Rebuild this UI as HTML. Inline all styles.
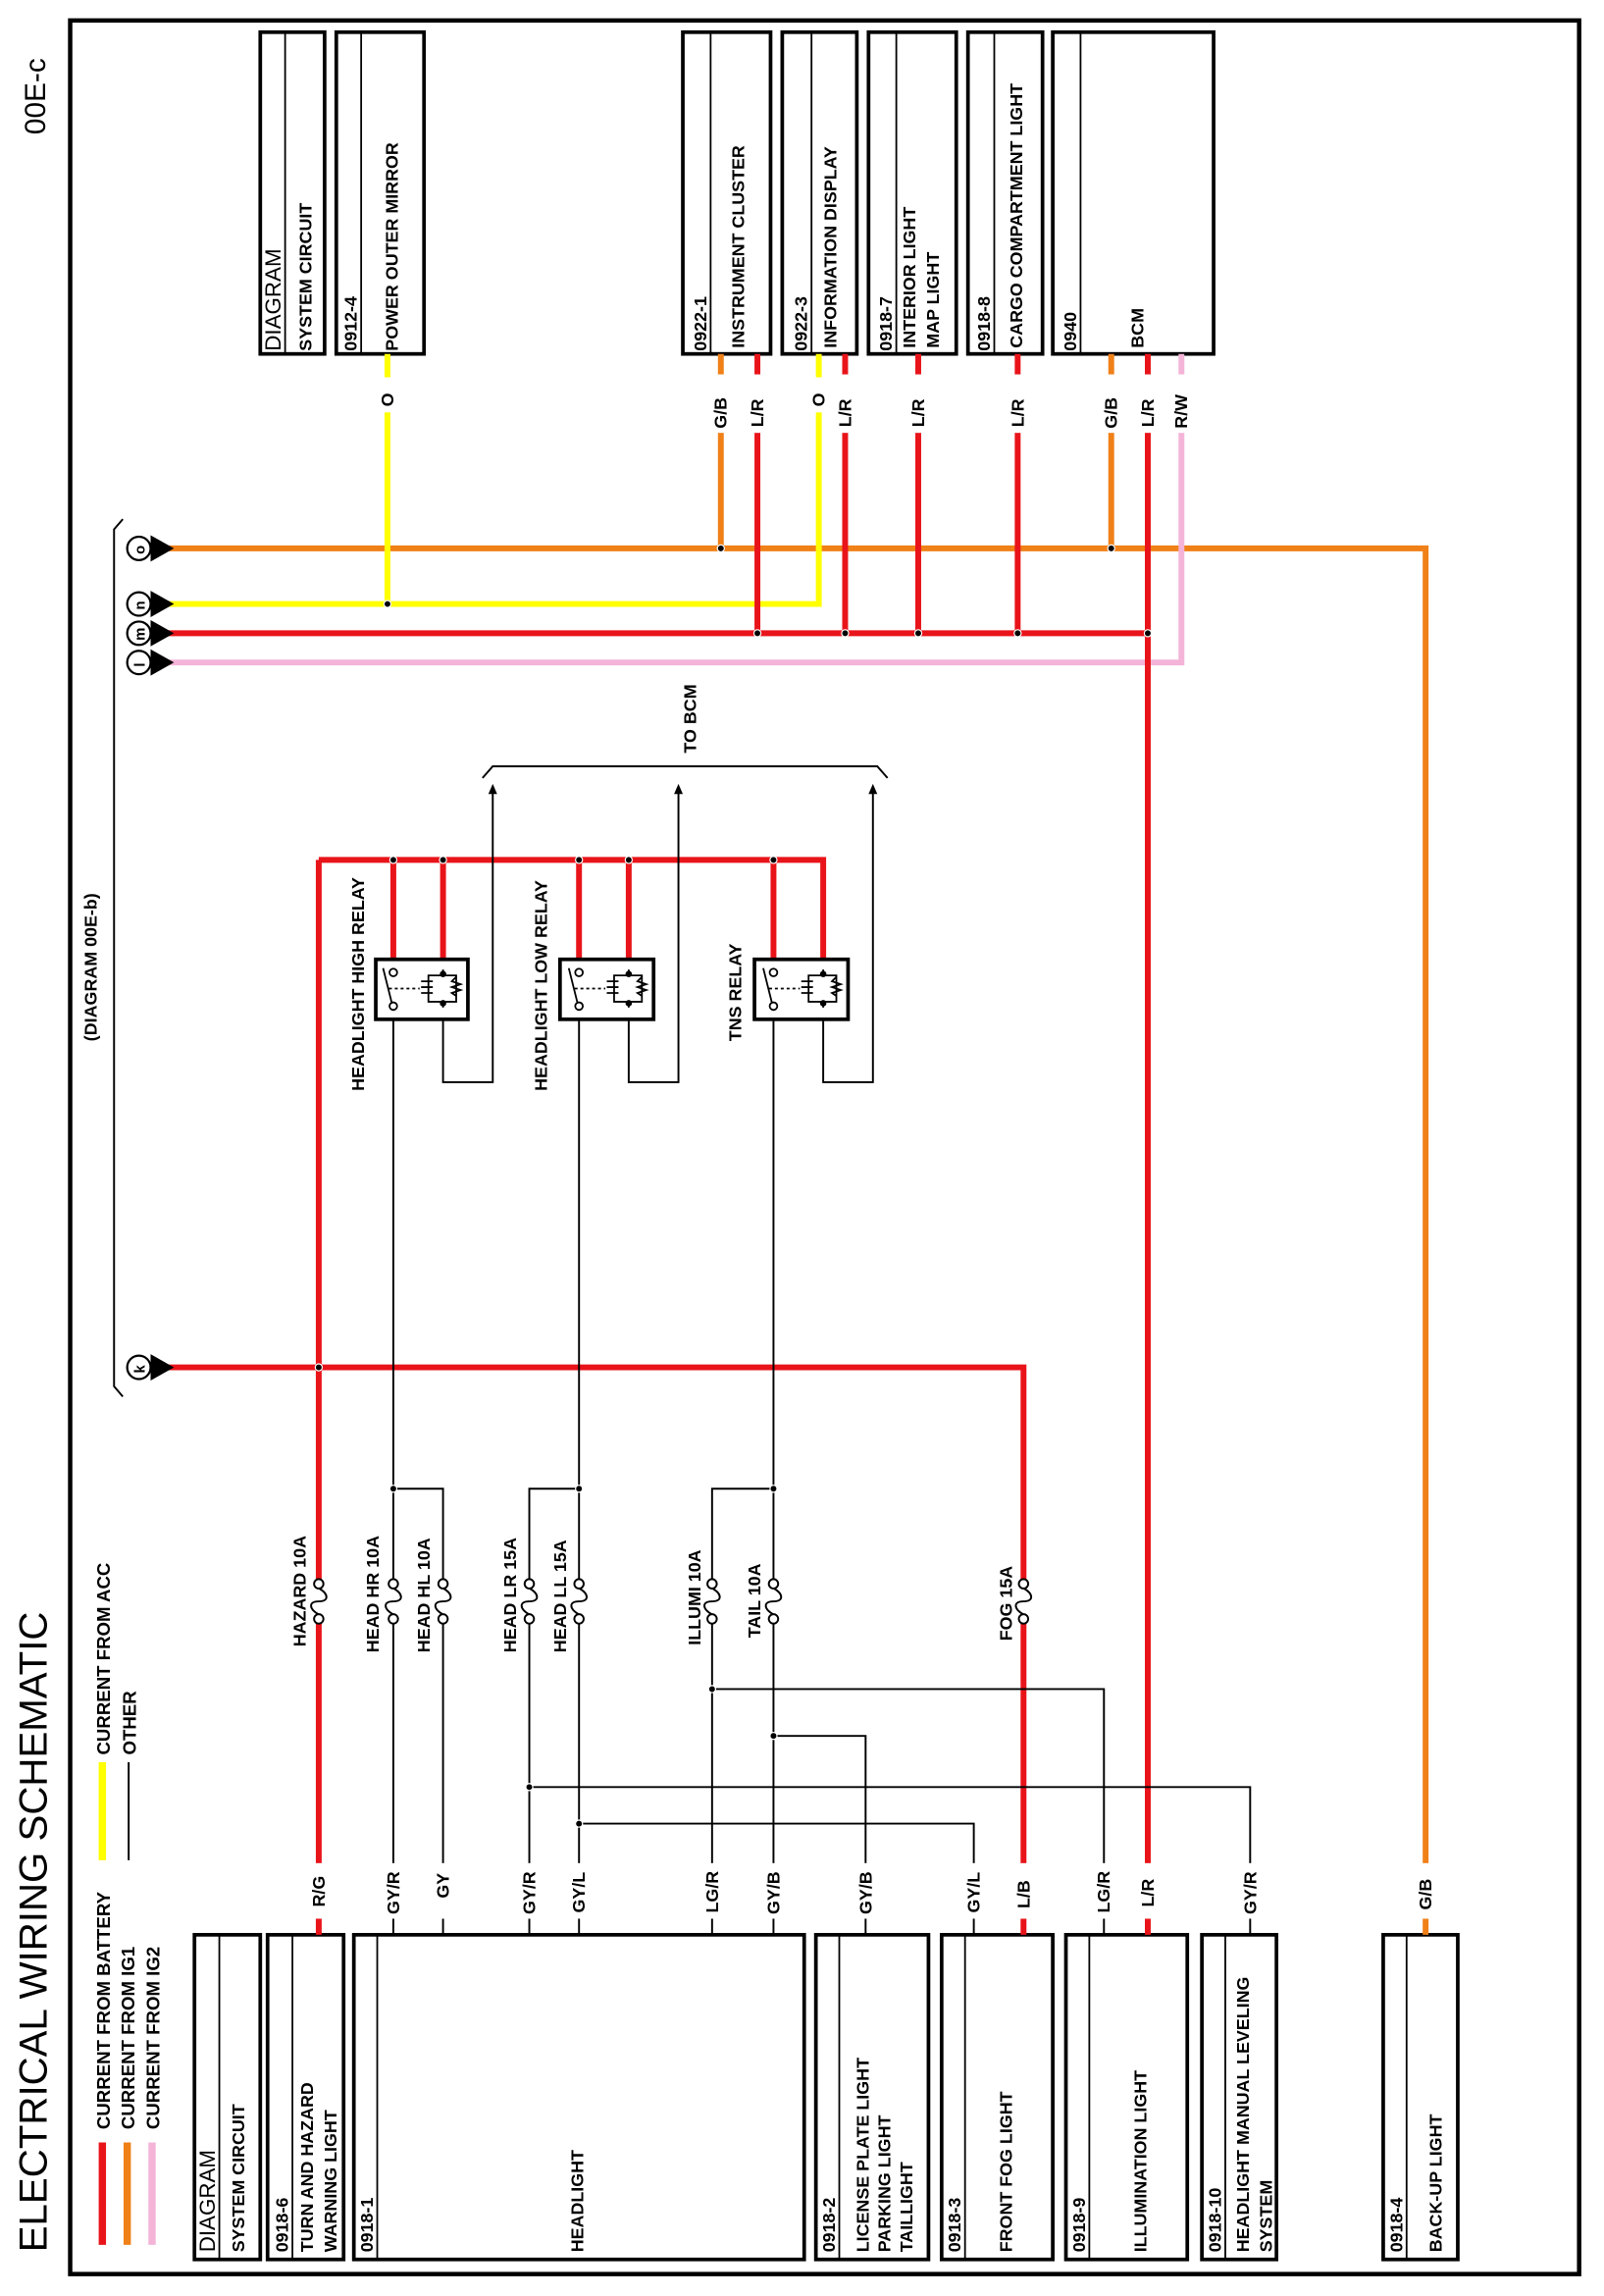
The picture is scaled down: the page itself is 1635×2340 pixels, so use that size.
<!DOCTYPE html>
<html><head><meta charset="utf-8"><style>
html,body{margin:0;padding:0;background:#fff;}
svg{display:block;}
text{font-family:"Liberation Sans",Arial,sans-serif;font-weight:bold;font-size:12px;fill:#000;}
</style></head><body>
<svg width="1635" height="2340" viewBox="0 0 1097 1570" preserveAspectRatio="none" xmlns="http://www.w3.org/2000/svg">
<rect x="0" y="0" width="1097" height="1570" fill="#fff"/>
<rect x="48" y="14" width="1032" height="1541" fill="none" stroke="#000" stroke-width="3"/>
<text transform="translate(32,1540) rotate(-90)" style="font-size:27px;font-weight:normal">ELECTRICAL WIRING SCHEMATIC</text>
<text transform="translate(31,92) rotate(-90)" style="font-size:20px;font-weight:normal">00E-c</text>

<!-- legend -->
<line x1="70" y1="1465" x2="70" y2="1535" stroke="#e8141a" stroke-width="5"/>
<line x1="87" y1="1465" x2="87" y2="1535" stroke="#f08018" stroke-width="5"/>
<line x1="104" y1="1465" x2="104" y2="1535" stroke="#f4b4d8" stroke-width="5"/>
<text transform="translate(75,1456) rotate(-90)" style="font-size:12.5px">CURRENT FROM BATTERY</text>
<text transform="translate(92,1456) rotate(-90)" style="font-size:12.5px">CURRENT FROM IG1</text>
<text transform="translate(109,1456) rotate(-90)" style="font-size:12.5px">CURRENT FROM IG2</text>
<line x1="70" y1="1205" x2="70" y2="1272" stroke="#ffff00" stroke-width="5"/>
<line x1="88" y1="1205" x2="88" y2="1272" stroke="#000" stroke-width="1.3"/>
<text transform="translate(75,1200) rotate(-90)" style="font-size:12.5px">CURRENT FROM ACC</text>
<text transform="translate(93,1200) rotate(-90)" style="font-size:12.5px">OTHER</text>

<g fill="none" stroke="#000" stroke-width="2.5">
<rect x="133" y="1323" width="45" height="222"/>
<rect x="183" y="1323" width="52" height="222"/>
<rect x="242" y="1323" width="308" height="222"/>
<rect x="558" y="1323" width="77" height="222"/>
<rect x="644" y="1323" width="76" height="222"/>
<rect x="729" y="1323" width="83" height="222"/>
<rect x="822" y="1323" width="51" height="222"/>
<rect x="946" y="1323" width="51" height="222"/>
<rect x="178" y="22" width="44" height="220"/>
<rect x="230" y="22" width="60" height="220"/>
<rect x="467" y="22" width="60" height="220"/>
<rect x="535" y="22" width="51" height="220"/>
<rect x="594" y="22" width="60" height="220"/>
<rect x="662" y="22" width="51" height="220"/>
<rect x="720" y="22" width="110" height="220"/>
</g>
<g stroke="#000" stroke-width="1.2">
<line x1="150" y1="1323" x2="150" y2="1545"/>
<line x1="200" y1="1323" x2="200" y2="1545"/>
<line x1="258" y1="1323" x2="258" y2="1545"/>
<line x1="574" y1="1323" x2="574" y2="1545"/>
<line x1="660" y1="1323" x2="660" y2="1545"/>
<line x1="745" y1="1323" x2="745" y2="1545"/>
<line x1="838" y1="1323" x2="838" y2="1545"/>
<line x1="962" y1="1323" x2="962" y2="1545"/>
<line x1="195" y1="22" x2="195" y2="242"/>
<line x1="247" y1="22" x2="247" y2="242"/>
<line x1="486" y1="22" x2="486" y2="242"/>
<line x1="555" y1="22" x2="555" y2="242"/>
<line x1="613" y1="22" x2="613" y2="242"/>
<line x1="680" y1="22" x2="680" y2="242"/>
<line x1="739" y1="22" x2="739" y2="242"/>
</g>
<text transform="translate(147,1540) rotate(-90)" style="font-size:15px;font-weight:normal">DIAGRAM</text>
<text transform="translate(167,1540) rotate(-90)">SYSTEM CIRCUIT</text>
<text transform="translate(197,1540) rotate(-90)">0918-6</text>
<text transform="translate(214,1540) rotate(-90)">TURN AND HAZARD</text>
<text transform="translate(230,1540) rotate(-90)">WARNING LIGHT</text>
<text transform="translate(255,1540) rotate(-90)">0918-1</text>
<text transform="translate(399,1540) rotate(-90)">HEADLIGHT</text>
<text transform="translate(571,1540) rotate(-90)">0918-2</text>
<text transform="translate(594,1540) rotate(-90)">LICENSE PLATE LIGHT</text>
<text transform="translate(609,1540) rotate(-90)">PARKING LIGHT</text>
<text transform="translate(624,1540) rotate(-90)">TAILLIGHT</text>
<text transform="translate(657,1540) rotate(-90)">0918-3</text>
<text transform="translate(692,1540) rotate(-90)">FRONT FOG LIGHT</text>
<text transform="translate(742,1540) rotate(-90)">0918-9</text>
<text transform="translate(784,1540) rotate(-90)">ILLUMINATION LIGHT</text>
<text transform="translate(835,1540) rotate(-90)">0918-10</text>
<text transform="translate(854,1540) rotate(-90)">HEADLIGHT MANUAL LEVELING</text>
<text transform="translate(870,1540) rotate(-90)">SYSTEM</text>
<text transform="translate(959,1540) rotate(-90)">0918-4</text>
<text transform="translate(986,1540) rotate(-90)">BACK-UP LIGHT</text>
<text transform="translate(192,240) rotate(-90)" style="font-size:15px;font-weight:normal">DIAGRAM</text>
<text transform="translate(213,240) rotate(-90)">SYSTEM CIRCUIT</text>
<text transform="translate(244,240) rotate(-90)">0912-4</text>
<text transform="translate(272,240) rotate(-90)">POWER OUTER MIRROR</text>
<text transform="translate(483,240) rotate(-90)">0922-1</text>
<text transform="translate(509,238) rotate(-90)">INSTRUMENT CLUSTER</text>
<text transform="translate(552,240) rotate(-90)">0922-3</text>
<text transform="translate(572,238) rotate(-90)">INFORMATION DISPLAY</text>
<text transform="translate(610,240) rotate(-90)">0918-7</text>
<text transform="translate(626,238) rotate(-90)">INTERIOR LIGHT</text>
<text transform="translate(642,238) rotate(-90)">MAP LIGHT</text>
<text transform="translate(677,240) rotate(-90)">0918-8</text>
<text transform="translate(699,238) rotate(-90)">CARGO COMPARTMENT LIGHT</text>
<text transform="translate(736,240) rotate(-90)">0940</text>
<text transform="translate(782,238) rotate(-90)">BCM</text>

<path d="M84,355 L78,362 L78,948 L84,955" fill="none" stroke="#000" stroke-width="1.3"/>
<text transform="translate(66,712) rotate(-90)">(DIAGRAM 00E-b)</text>

<g fill="none" stroke-width="4">
<polyline points="110,375 975,375 975,1323" stroke="#f08018"/>
<polyline points="110,413 560,413 560,242" stroke="#ffff00"/>
<line x1="265" y1="242" x2="265" y2="413" stroke="#ffff00"/>
<polyline points="110,453 808,453 808,242" stroke="#f4b4d8"/>
<line x1="493" y1="242" x2="493" y2="375" stroke="#f08018"/>
<line x1="760" y1="242" x2="760" y2="375" stroke="#f08018"/>
<line x1="110" y1="433" x2="785" y2="433" stroke="#e8141a"/>
<line x1="518" y1="242" x2="518" y2="433" stroke="#e8141a"/>
<line x1="578" y1="242" x2="578" y2="433" stroke="#e8141a"/>
<line x1="628" y1="242" x2="628" y2="433" stroke="#e8141a"/>
<line x1="696" y1="242" x2="696" y2="433" stroke="#e8141a"/>
<line x1="785" y1="242" x2="785" y2="1323" stroke="#e8141a"/>
<polyline points="110,935 700,935 700,1323" stroke="#e8141a"/>
<line x1="218" y1="588" x2="218" y2="1323" stroke="#e8141a"/>
<polyline points="218,588 563,588 563,656" stroke="#e8141a"/>
<line x1="269" y1="588" x2="269" y2="656" stroke="#e8141a"/>
<line x1="303" y1="588" x2="303" y2="656" stroke="#e8141a"/>
<line x1="396" y1="588" x2="396" y2="656" stroke="#e8141a"/>
<line x1="430" y1="588" x2="430" y2="656" stroke="#e8141a"/>
<line x1="529" y1="588" x2="529" y2="656" stroke="#e8141a"/>
</g>
<g fill="#fff">
<rect x="258" y="258" width="14" height="24"/>
<rect x="486" y="256" width="14" height="40"/>
<rect x="511" y="256" width="14" height="40"/>
<rect x="553" y="258" width="14" height="24"/>
<rect x="571" y="256" width="14" height="40"/>
<rect x="621" y="256" width="14" height="40"/>
<rect x="689" y="256" width="14" height="40"/>
<rect x="753" y="256" width="14" height="40"/>
<rect x="778" y="256" width="14" height="40"/>
<rect x="801" y="256" width="14" height="40"/>
</g>
<text transform="translate(269,278) rotate(-90)">O</text>
<text transform="translate(497,293) rotate(-90)">G/B</text>
<text transform="translate(522,292) rotate(-90)">L/R</text>
<text transform="translate(564,278) rotate(-90)">O</text>
<text transform="translate(582,292) rotate(-90)">L/R</text>
<text transform="translate(632,292) rotate(-90)">L/R</text>
<text transform="translate(700,292) rotate(-90)">L/R</text>
<text transform="translate(764,293) rotate(-90)">G/B</text>
<text transform="translate(789,292) rotate(-90)">L/R</text>
<text transform="translate(812,293) rotate(-90)">R/W</text>

<g stroke="#000" stroke-width="1.5" fill="#fff">
<circle cx="95" cy="375" r="8"/><circle cx="95" cy="413" r="8"/><circle cx="95" cy="433" r="8"/><circle cx="95" cy="453" r="8"/><circle cx="95" cy="935" r="8"/>
</g>
<g fill="#000">
<polygon points="103,366 103,384 119,375"/><polygon points="103,404 103,422 119,413"/><polygon points="103,424 103,442 119,433"/><polygon points="103,444 103,462 119,453"/><polygon points="103,926 103,944 119,935"/>
</g>
<text transform="translate(99,379) rotate(-90)" style="font-size:10px">o</text>
<text transform="translate(99,417) rotate(-90)" style="font-size:10px">n</text>
<text transform="translate(99,438) rotate(-90)" style="font-size:10px">m</text>
<text transform="translate(99,456) rotate(-90)" style="font-size:10px">l</text>
<text transform="translate(99,939) rotate(-90)" style="font-size:10px">k</text>

<path d="M330,532 L337,524 L600,524 L607,532" fill="none" stroke="#000" stroke-width="1.3"/>
<text transform="translate(476,515) rotate(-90)">TO BCM</text>

<g fill="none" stroke="#000" stroke-width="1.3">
<polyline points="303,697 303,740 337,740 337,542"/>
<polyline points="430,697 430,740 464,740 464,542"/>
<polyline points="563,697 563,740 597,740 597,542"/>
<line x1="269" y1="697" x2="269" y2="1323"/>
<polyline points="269,1018 303,1018 303,1323"/>
<line x1="396" y1="697" x2="396" y2="1323"/>
<polyline points="396,1018 362,1018 362,1323"/>
<line x1="529" y1="697" x2="529" y2="1323"/>
<polyline points="529,1018 487,1018 487,1323"/>
<polyline points="487,1155 755,1155 755,1323"/>
<polyline points="529,1187 592,1187 592,1323"/>
<polyline points="362,1222 855,1222 855,1323"/>
<polyline points="396,1247 666,1247 666,1323"/>
</g>
<g fill="#000">
<polygon points="337,536 334,543 340,543"/><polygon points="464,536 461,543 467,543"/><polygon points="597,536 594,543 600,543"/>
</g>

<g fill="#fff" stroke="#000" stroke-width="2.5">
<rect x="257" y="656" width="63" height="41"/>
<rect x="383" y="656" width="64" height="41"/>
<rect x="516" y="656" width="64" height="41"/>
</g>
<g fill="none" stroke="#000" stroke-width="1.2">
<g id="r1">
<circle cx="269" cy="665" r="2.6" fill="#fff"/><circle cx="269" cy="688" r="2.6" fill="#fff"/>
<line x1="262" y1="662" x2="268" y2="686"/>
<line x1="266" y1="676" x2="287" y2="676" stroke-dasharray="2,2"/>
<path d="M303,663 L303,667 L293,667 L293,685 L303,685 L303,689 M303,667 L312,667 L312,685 L303,685"/>
<path d="M288,671 h8 M288,675 h8 M288,679 h8"/>
<path d="M312,668 l-3,3 l6,2 l-6,2 l6,2 l-6,2 l3,2"/>
</g>
<use href="#r1" transform="translate(127,0)"/>
<use href="#r1" transform="translate(260,0)"/>
</g>
<g fill="#000"><circle cx="303" cy="666" r="2.2"/><circle cx="303" cy="686" r="2.2"/><circle cx="430" cy="666" r="2.2"/><circle cx="430" cy="686" r="2.2"/><circle cx="563" cy="666" r="2.2"/><circle cx="563" cy="686" r="2.2"/></g>
<text transform="translate(249,746) rotate(-90)">HEADLIGHT HIGH RELAY</text>
<text transform="translate(374,746) rotate(-90)">HEADLIGHT LOW RELAY</text>
<text transform="translate(507,712) rotate(-90)">TNS RELAY</text>

<g id="fz">
<rect x="212" y="1080" width="12" height="30" fill="#fff"/>
<circle cx="218" cy="1083" r="3.2" fill="#fff" stroke="#000" stroke-width="1.3"/>
<circle cx="218" cy="1107" r="3.2" fill="#fff" stroke="#000" stroke-width="1.3"/>
<path d="M218,1086 C225,1090 225,1095 218,1095 C211,1095 211,1100 218,1104" fill="none" stroke="#000" stroke-width="1.3"/>
</g>
<use href="#fz" transform="translate(51,0)"/>
<use href="#fz" transform="translate(85,0)"/>
<use href="#fz" transform="translate(144,0)"/>
<use href="#fz" transform="translate(178,0)"/>
<use href="#fz" transform="translate(269,0)"/>
<use href="#fz" transform="translate(311,0)"/>
<use href="#fz" transform="translate(482,0)"/>
<text transform="translate(209,1126) rotate(-90)">HAZARD 10A</text>
<text transform="translate(259,1130) rotate(-90)">HEAD HR 10A</text>
<text transform="translate(294,1130) rotate(-90)">HEAD HL 10A</text>
<text transform="translate(353,1130) rotate(-90)">HEAD LR 15A</text>
<text transform="translate(387,1130) rotate(-90)">HEAD LL 15A</text>
<text transform="translate(479,1125) rotate(-90)">ILLUMI 10A</text>
<text transform="translate(520,1120) rotate(-90)">TAIL 10A</text>
<text transform="translate(692,1122) rotate(-90)">FOG 15A</text>

<g fill="#000" stroke="#fff" stroke-width="0.8">
<circle cx="493" cy="375" r="2.4"/><circle cx="760" cy="375" r="2.4"/><circle cx="265" cy="413" r="2.4"/>
<circle cx="518" cy="433" r="2.4"/><circle cx="578" cy="433" r="2.4"/><circle cx="628" cy="433" r="2.4"/><circle cx="696" cy="433" r="2.4"/><circle cx="785" cy="433" r="2.4"/>
<circle cx="218" cy="935" r="2.4"/>
<circle cx="269" cy="588" r="2.4"/><circle cx="303" cy="588" r="2.4"/><circle cx="396" cy="588" r="2.4"/><circle cx="430" cy="588" r="2.4"/><circle cx="529" cy="588" r="2.4"/>
<circle cx="269" cy="1018" r="2.4"/><circle cx="396" cy="1018" r="2.4"/><circle cx="529" cy="1018" r="2.4"/>
<circle cx="487" cy="1155" r="2.4"/><circle cx="529" cy="1187" r="2.4"/><circle cx="362" cy="1222" r="2.4"/><circle cx="396" cy="1247" r="2.4"/>
</g>

<g fill="#fff">
<rect x="211" y="1274" width="14" height="38"/>
<rect x="262" y="1274" width="14" height="38"/>
<rect x="296" y="1274" width="14" height="38"/>
<rect x="355" y="1274" width="14" height="38"/>
<rect x="389" y="1274" width="14" height="38"/>
<rect x="480" y="1274" width="14" height="38"/>
<rect x="522" y="1274" width="14" height="38"/>
<rect x="585" y="1274" width="14" height="38"/>
<rect x="659" y="1274" width="14" height="38"/>
<rect x="693" y="1274" width="14" height="38"/>
<rect x="748" y="1274" width="14" height="38"/>
<rect x="778" y="1274" width="14" height="38"/>
<rect x="848" y="1274" width="14" height="38"/>
<rect x="968" y="1274" width="14" height="38"/>
</g>
<text transform="translate(222,1304) rotate(-90)">R/G</text>
<text transform="translate(273,1309) rotate(-90)">GY/R</text>
<text transform="translate(307,1298) rotate(-90)">GY</text>
<text transform="translate(366,1309) rotate(-90)">GY/R</text>
<text transform="translate(400,1308) rotate(-90)">GY/L</text>
<text transform="translate(491,1308) rotate(-90)">LG/R</text>
<text transform="translate(533,1309) rotate(-90)">GY/B</text>
<text transform="translate(596,1309) rotate(-90)">GY/B</text>
<text transform="translate(670,1308) rotate(-90)">GY/L</text>
<text transform="translate(704,1305) rotate(-90)">L/B</text>
<text transform="translate(759,1308) rotate(-90)">LG/R</text>
<text transform="translate(789,1304) rotate(-90)">L/R</text>
<text transform="translate(859,1309) rotate(-90)">GY/R</text>
<text transform="translate(979,1306) rotate(-90)">G/B</text>
</svg>
</body></html>
